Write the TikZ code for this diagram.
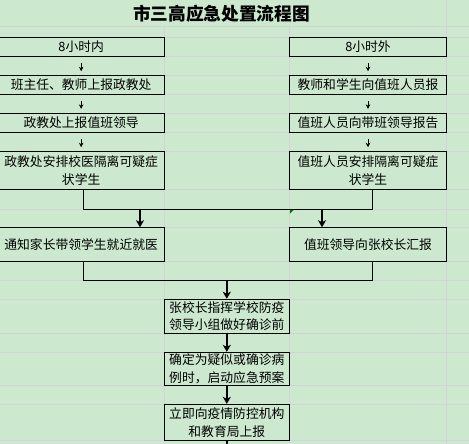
\documentclass[tikz,border=0pt]{standalone}
\usepackage{fontspec}
\newfontfamily\cjk{Noto Sans CJK SC}
\usetikzlibrary{arrows.meta}
\definecolor{bg}{RGB}{204,232,207}
\definecolor{gridc}{RGB}{212,212,212}
\definecolor{tri}{RGB}{0,128,0}
\tikzset{
  box/.style={draw=black, line width=0.9pt, fill=bg, inner sep=0pt, align=center,
    font=\cjk\fontsize{12.8}{17.5}\selectfont},
  sarrow/.style={-{Stealth[length=4.5pt,width=4.5pt]}, line width=0.9pt, shorten <=6pt, shorten >=4pt},
  tarrow/.style={-{Stealth[length=7pt,width=8pt,inset=2pt]}, line width=1.8pt},
  conn/.style={line width=1pt},
  gline/.style={draw=gridc, line width=0.8pt}
}
\begin{document}
\begin{tikzpicture}[x=1pt,y=-1pt]
\useasboundingbox (0,0) rectangle (469,444);
\fill[bg] (0,0) rectangle (469,444);
% grid
\foreach \yy in {26,37.3,56.7,75.7,94.3,113.3,132.5,151.7,189.5,209.3,227.7,261.3,280.8,299.2,333.3,352.3,385.7,404.3,440.5}
  \draw[gline] (0,\yy) -- (469,\yy);
\draw[gline] (164.3,26) -- (164.3,444);
\draw[gline] (289.3,26) -- (289.3,444);
\draw[gline] (446.7,0) -- (446.7,444);
% title
\node[font=\cjk\bfseries\fontsize{17.7}{20}\selectfont] (title) at (221.5,13.5) {市三高应急处置流程图};
% left column
\node[box, minimum width=166.3pt, minimum height=19.4pt] (l1) at (81.15,47) {8小时内};
\node[box, minimum width=166.3pt, minimum height=18.6pt] (l2) at (81.15,85) {班主任、教师上报政教处};
\node[box, minimum width=166.3pt, minimum height=19.2pt] (l3) at (81.15,122.9) {政教处上报值班领导};
\node[box, minimum width=166.3pt, minimum height=37.8pt] (l4) at (81.15,170.6) {政教处安排校医隔离可疑症\\状学生};
\node[box, minimum width=166.3pt, minimum height=33.6pt] (l5) at (81.15,244.5) {通知家长带领学生就近就医};
% right column
\node[box, minimum width=157.4pt, minimum height=19.4pt] (r1) at (368,47) {8小时外};
\node[box, minimum width=157.4pt, minimum height=18.6pt] (r2) at (368,85) {教师和学生向值班人员报};
\node[box, minimum width=157.4pt, minimum height=19.2pt] (r3) at (368,122.9) {值班人员向带班领导报告};
\node[box, minimum width=157.4pt, minimum height=37.8pt] (r4) at (368,170.6) {值班人员安排隔离可疑症\\状学生};
\node[box, minimum width=157.4pt, minimum height=33.6pt] (r5) at (368,244.5) {值班领导向张校长汇报};
% bottom column
\node[box, minimum width=125pt, minimum height=34.1pt] (b6) at (226.8,316.25) {张校长指挥学校防疫\\领导小组做好确诊前};
\node[box, minimum width=125pt, minimum height=33.4pt] (b7) at (226.8,369) {确定为疑似或确诊病\\例时，启动应急预案};
\node[box, minimum width=125pt, minimum height=36.2pt] (b8) at (226.8,422.4) {立即向疫情防控机构\\和教育局上报};
% small arrows
\draw[sarrow] (l1) -- (l2);
\draw[sarrow] (l2) -- (l3);
\draw[sarrow] (l3) -- (l4);
\draw[sarrow] (r1) -- (r2);
\draw[sarrow] (r2) -- (r3);
\draw[sarrow] (r3) -- (r4);
% first merge
\coordinate (j1) at (83,209.3);
\coordinate (j2) at (372,209.3);
\draw[conn] (l4.south -| j1) -- (j1) -- (j2) -- (r4.south -| j2);
\coordinate (a1) at (140,209.3);
\coordinate (a2) at (322,209.3);
\draw[tarrow] (a1) -- (a1 |- l5.north);
\draw[tarrow] (a2) -- (a2 |- r5.north);
% second merge
\coordinate (k1) at (83,280.8);
\coordinate (k2) at (372,280.8);
\draw[conn] (l5.south -| k1) -- (k1) -- (k2) -- (r5.south -| k2);
\coordinate (a3) at (226.8,280.8);
\draw[tarrow] (a3) -- (b6.north);
\draw[tarrow] (b6.south) -- (b7.north);
\draw[tarrow] (b7.south) -- (b8.north);
\coordinate (e) at (226.8,447);
\draw[line width=1.8pt] (b8.south) -- (e);
% cell indicator
\fill[tri] (289.8,209.8) -- (293.8,209.8) -- (289.8,213.8) -- cycle;
\end{tikzpicture}
\end{document}
